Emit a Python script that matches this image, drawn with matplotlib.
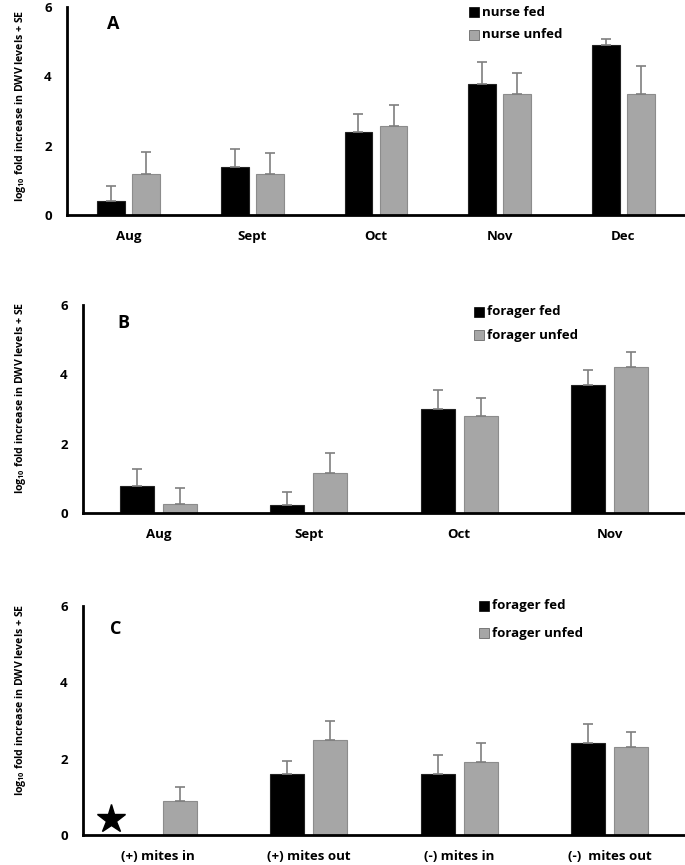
import matplotlib.pyplot as plt
from matplotlib.patches import Rectangle
import numpy as np

plt.rcParams['font.family'] = ['Open Sans', 'DejaVu Sans']
plt.rcParams['font.weight'] = 'bold'
plt.rcParams['mathtext.fontset'] = 'custom'
plt.rcParams['mathtext.rm'] = 'Open Sans:bold'
plt.rcParams['mathtext.bf'] = 'Open Sans:bold'

# panel A - nurses
months_a = ['Aug', 'Sept', 'Oct', 'Nov', 'Dec']
nurse_fed = [0.39, 1.38, 2.39, 3.79, 4.9]
nurse_fed_se = [0.46, 0.51, 0.51, 0.62, 0.19]
nurse_unfed = [1.18, 1.18, 2.58, 3.48, 3.48]
nurse_unfed_se = [0.64, 0.6, 0.59, 0.61, 0.81]

# panel B - foragers
months_b = ['Aug', 'Sept', 'Oct', 'Nov']
forager_fed = [0.77, 0.23, 3.0, 3.7]
forager_fed_se = [0.5, 0.38, 0.54, 0.43]
forager_unfed = [0.25, 1.14, 2.8, 4.2]
forager_unfed_se = [0.47, 0.6, 0.52, 0.43]

# panel C - mites (fed group in "(+) mites in" has no bar, only a star)
groups_c = ['(+) mites in', '(+) mites out', '(-) mites in', '(-)  mites out']
mite_fed = [0.0, 1.6, 1.6, 2.4]
mite_fed_se = [0.0, 0.35, 0.5, 0.5]
mite_unfed = [0.9, 2.49, 1.9, 2.3]
mite_unfed_se = [0.35, 0.51, 0.5, 0.4]

BLACK = '#000000'
GRAY = '#a6a6a6'
ERR = '#7f7f7f'
W, H = 685, 865

fig = plt.figure(figsize=(6.85, 8.65), dpi=100)


def px_rect(left, top, bottom):
    return [left / W, 1 - bottom / H, 1 - left / W, (bottom - top) / H]


def panel(rect, cats, fed, fed_se, unfed, unfed_se, labels, letter, letter_px,
          leg_px, leg_y2):
    ax = fig.add_axes(rect)
    x = np.arange(len(cats))
    width, off = 0.225, 0.142
    ekw = dict(fmt='none', ecolor=ERR, elinewidth=1.2, capsize=3.5, capthick=1.2)
    ax.bar(x - off, fed, width, color=BLACK, edgecolor='#222222', linewidth=0.8)
    for i in range(len(fed)):
        if fed[i] > 0:
            ax.errorbar(x[i] - off, fed[i], yerr=[[0], [fed_se[i]]], **ekw)
    ax.bar(x + off, unfed, width, color=GRAY, edgecolor='#8c8c8c', linewidth=0.8)
    ax.errorbar(x + off, unfed, yerr=[np.zeros(len(unfed)), unfed_se], **ekw)
    ax.set_xlim(-0.5, len(cats) - 0.5)
    ax.set_ylim(0, 6)
    ax.set_yticks([0, 2, 4, 6])
    ax.set_xticks(x)
    ax.set_xticklabels(cats)
    ax.tick_params(axis='x', length=0, labelsize=9.5, pad=11)
    ax.tick_params(axis='y', length=0, labelsize=9.5, pad=11)
    for s in ['top', 'right']:
        ax.spines[s].set_visible(False)
    for s in ['left', 'bottom']:
        ax.spines[s].set_linewidth(2)
    fig.text(letter_px[0] / W, 1 - letter_px[1] / H, letter, fontsize=13,
             fontweight='bold', va='center', ha='left')
    sx, tx, y1 = leg_px
    for lab, col, yy in zip(labels, [BLACK, GRAY], [y1, leg_y2]):
        fig.add_artist(Rectangle((sx / W, 1 - (yy + 5) / H), 10 / W, 10 / H,
                                 transform=fig.transFigure, facecolor=col,
                                 edgecolor='#555555' if col == GRAY else col, lw=0.5))
        fig.text(tx / W, 1 - yy / H, lab, fontsize=9.5, fontweight='bold',
                 va='center', ha='left')
    return ax


axA = panel(px_rect(67, 7, 215), months_a, nurse_fed, nurse_fed_se,
            nurse_unfed, nurse_unfed_se, ['nurse fed', 'nurse unfed'], 'A',
            (107, 24), (469, 482, 12), 35)
axB = panel(px_rect(83, 305, 513), months_b, forager_fed, forager_fed_se,
            forager_unfed, forager_unfed_se, ['forager fed', 'forager unfed'], 'B',
            (117, 323), (474, 487, 312), 335)
axC = panel(px_rect(83, 606, 835), groups_c, mite_fed, mite_fed_se,
            mite_unfed, mite_unfed_se, ['forager fed', 'forager unfed'], 'C',
            (110, 629), (479, 492, 606), 633)
axC.plot(-0.5 + 28 / 150.5, 0.43, marker='*', color='black', markersize=21,
         clip_on=False)

ylab = r'log$_{\mathbf{10}}$ fold increase in DWV levels + SE'
for yc in [106, 398, 700]:
    fig.text(21 / W, 1 - yc / H, ylab, rotation=90, fontsize=7.6,
             fontweight='bold', va='center', ha='center')

fig.savefig('out.png', dpi=100)
